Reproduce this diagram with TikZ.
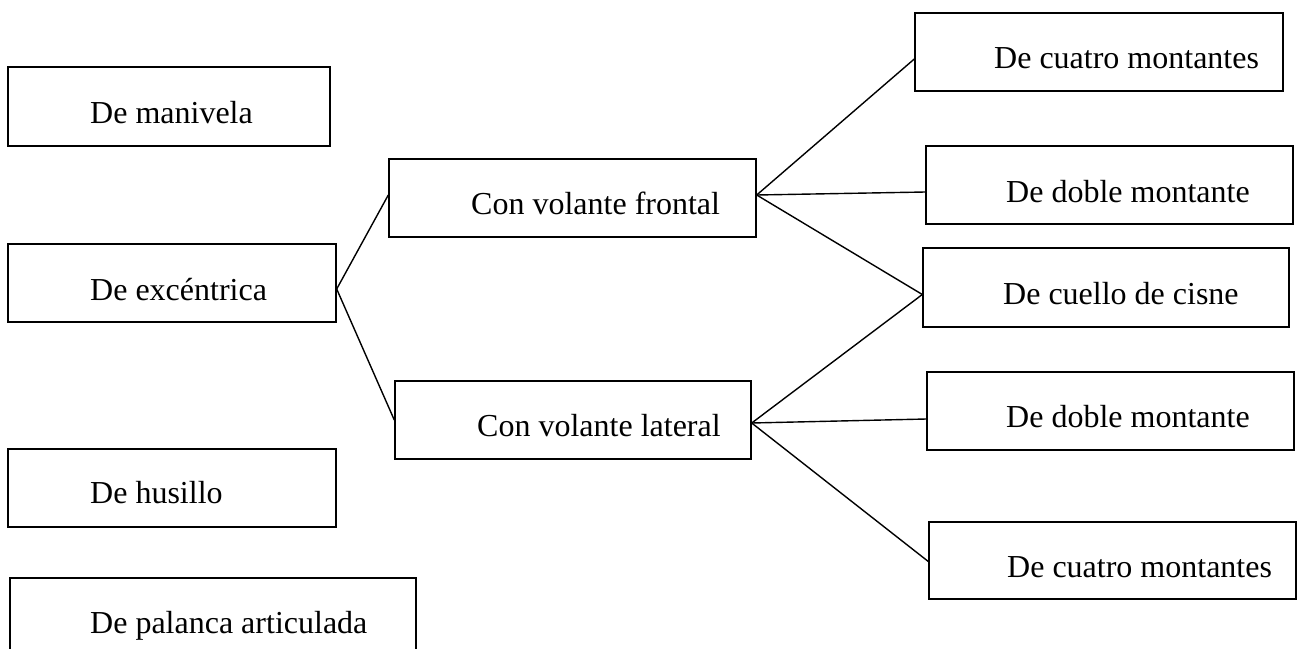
\documentclass[tikz,border=0pt]{standalone}
\usepackage{fontspec}
\setmainfont{Liberation Serif}
\usetikzlibrary{calc}
\begin{document}
\begin{tikzpicture}[x=1pt,y=-1pt,
  box/.style={draw=black,line width=1.4pt,rectangle,inner sep=0pt,anchor=center},
  label/.style={inner sep=0pt,anchor=base west,font=\fontsize{32}{38}\selectfont},
  link/.style={draw=black,line width=1.4pt}]
\clip (0,0) rectangle (1301,648);
\fill[white] (0,0) rectangle (1301,648);

% left column
\node[box,minimum width=322pt,minimum height=79pt] (man) at (169,106.5) {};
\node[box,minimum width=328pt,minimum height=78pt] (exc) at (172,283) {};
\node[box,minimum width=328pt,minimum height=78pt] (hus) at (172,488) {};
\node[box,minimum width=406pt,minimum height=78pt] (pal) at (213,617) {};

% middle column
\node[box,minimum width=367pt,minimum height=78pt] (fro) at (572.5,198) {};
\node[box,minimum width=356pt,minimum height=78pt] (lat) at (573,420) {};

% right column
\node[box,minimum width=368pt,minimum height=78pt] (c4a) at (1099,52) {};
\node[box,minimum width=367pt,minimum height=78pt] (d2a) at (1109.5,185) {};
\node[box,minimum width=366pt,minimum height=79pt] (cue) at (1106,287.5) {};
\node[box,minimum width=367pt,minimum height=78pt] (d2b) at (1110.5,411) {};
\node[box,minimum width=367pt,minimum height=77pt] (c4b) at (1112.5,560.5) {};

% labels
\node[label] (tman) at (90,123) {De manivela};
\node[label] (texc) at (90,300) {De excéntrica};
\node[label] (thus) at (90,503) {De husillo};
\node[label] (tpal) at (90,633) {De palanca articulada};
\node[label] (tfro) at (471,214) {Con volante frontal};
\node[label] (tlat) at (477,436) {Con volante lateral};
\node[label] (tc4a) at (994,68) {De cuatro montantes};
\node[label] (td2a) at (1006,202) {De doble montante};
\node[label] (tcue) at (1003,304) {De cuello de cisne};
\node[label] (td2b) at (1006,427) {De doble montante};
\node[label] (tc4b) at (1007,577) {De cuatro montantes};

% connectors
\draw[link] ($(exc.east)+(0,6)$) -- ($(fro.west)+(0,-3)$);
\draw[link] ($(exc.east)+(0,6)$) -- (lat.west);
\draw[link] ($(fro.east)+(0,-3)$) -- ($(c4a.west)+(0,7)$);
\draw[link] ($(fro.east)+(0,-3)$) -- ($(d2a.west)+(0,7)$);
\draw[link] ($(fro.east)+(0,-3)$) -- ($(cue.west)+(0,7)$);
\draw[link] ($(lat.east)+(0,3)$) -- ($(cue.west)+(0,7)$);
\draw[link] ($(lat.east)+(0,3)$) -- ($(d2b.west)+(0,8)$);
\draw[link] ($(lat.east)+(0,3)$) -- ($(c4b.west)+(0,1)$);
\end{tikzpicture}
\end{document}
